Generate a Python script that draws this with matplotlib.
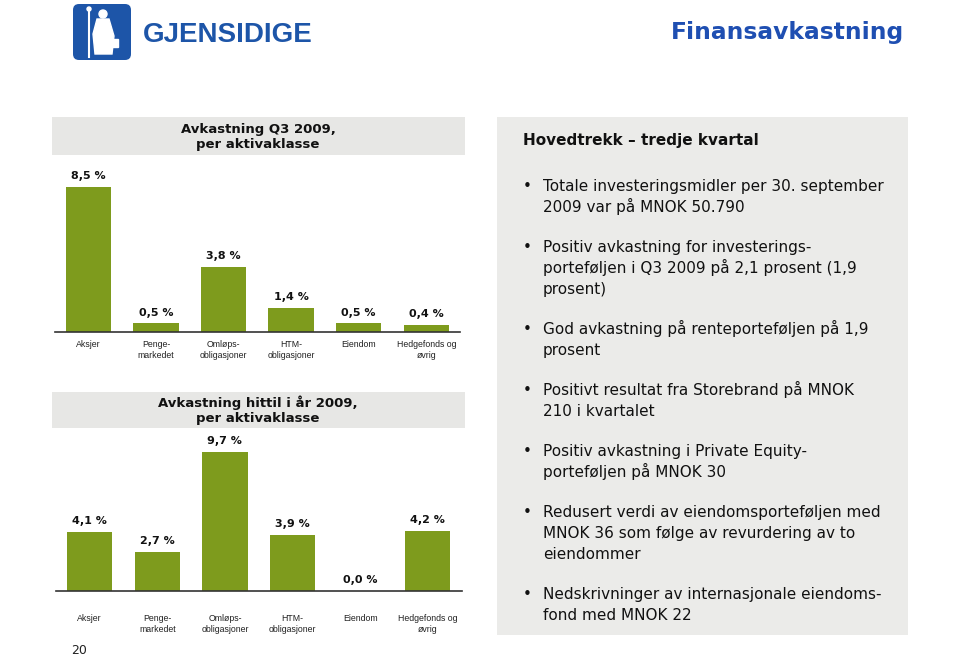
import matplotlib.pyplot as plt
from matplotlib.patches import Rectangle, FancyBboxPatch, Ellipse, Polygon

# data
categories = ['Aksjer', 'Penge-\nmarkedet', 'Omløps-\nobligasjoner', 'HTM-\nobligasjoner',
              'Eiendom', 'Hedgefonds og\nøvrig']
q3_values = [8.5, 0.5, 3.8, 1.4, 0.5, 0.4]
ytd_values = [4.1, 2.7, 9.7, 3.9, 0.0, 4.2]

q3_title = 'Avkastning Q3 2009,\nper aktivaklasse'
ytd_title = 'Avkastning hittil i år 2009,\nper aktivaklasse'
panel_title = 'Hovedtrekk – tredje kvartal'
bullets = [
    ['Totale investeringsmidler per 30. september', '2009 var på MNOK 50.790'],
    ['Positiv avkastning for investerings-', 'porteføljen i Q3 2009 på 2,1 prosent (1,9', 'prosent)'],
    ['God avkastning på renteporteføljen på 1,9', 'prosent'],
    ['Positivt resultat fra Storebrand på MNOK', '210 i kvartalet'],
    ['Positiv avkastning i Private Equity-', 'porteføljen på MNOK 30'],
    ['Redusert verdi av eiendomsporteføljen med', 'MNOK 36 som følge av revurdering av to', 'eiendommer'],
    ['Nedskrivninger av internasjonale eiendoms-', 'fond med MNOK 22'],
]

GREEN = '#7e9b1d'
GREY_BOX = '#e7e7e5'
PANEL = '#ebebe9'
BLUE = '#1f4fb2'
LOGO_BLUE = '#1d55a8'

W, H = 960, 658


def main():
    fig = plt.figure(figsize=(9.6, 6.58), dpi=100)

    # overlay in pixel coordinates for the slide decoration
    deco = fig.add_axes([0, 0, 1, 1])
    deco.set_xlim(0, W)
    deco.set_ylim(H, 0)
    deco.axis('off')

    draw_logo(deco)
    deco.text(904, 33, 'Finansavkastning', ha='right', va='center', fontsize=16.8,
              fontweight='bold', color=BLUE)

    # chart title boxes
    deco.add_patch(Rectangle((52, 117), 413, 38, color=GREY_BOX, lw=0))
    deco.text(258, 137, q3_title, ha='center', va='center', fontsize=9.5,
              fontweight='bold', linespacing=1.25, color='#111111')
    deco.add_patch(Rectangle((52, 392), 413, 36, color=GREY_BOX, lw=0))
    deco.text(258, 410, ytd_title, ha='center', va='center', fontsize=9.5,
              fontweight='bold', linespacing=1.25, color='#111111')

    # right text panel
    deco.add_patch(Rectangle((497, 117), 411, 518, color=PANEL, lw=0))
    deco.text(523, 141, panel_title, ha='left', va='center', fontsize=11,
              fontweight='bold', color='#111111')
    y = 186
    for item in bullets:
        deco.text(527, y + 5, '•', ha='center', va='baseline', fontsize=11, color='#111111')
        for line in item:
            deco.text(543, y + 5, line, ha='left', va='baseline', fontsize=11, color='#111111')
            y += 21
        y += 19

    deco.text(71, 651, '20', ha='left', va='center', fontsize=9, color='#222222')

    # bar charts
    bar_chart(fig, q3_values, left=54.5, right=460.1, base_y=331.7, top_y=160,
              px_per_unit=17.06, pad=6)
    bar_chart(fig, ytd_values, left=55.9, right=461.5, base_y=590.7, top_y=440,
              px_per_unit=14.33, pad=16.5)

    fig.savefig('out.png', dpi=100)


def draw_logo(ax):
    ax.add_patch(FancyBboxPatch((75, 6), 54, 52, boxstyle='round,pad=2,rounding_size=6',
                                color=LOGO_BLUE, lw=0))
    # simple white pilgrim figure
    ax.plot([89, 89], [9, 57], color='white', lw=1.5)
    ax.add_patch(Ellipse((89, 9), 4, 4, color='white'))
    ax.add_patch(Ellipse((103, 14), 8, 8, color='white'))
    ax.add_patch(Polygon([(97, 19), (109, 19), (114, 36), (112, 54), (95, 54), (93, 34)],
                         closed=True, color='white'))
    ax.add_patch(Rectangle((110, 39), 8, 8, color='white'))
    ax.text(143, 35, 'GJENSIDIGE', ha='left', va='center', fontsize=20,
            fontweight='bold', family='Liberation Sans', color=LOGO_BLUE)


def bar_chart(fig, values, left, right, base_y, top_y, px_per_unit, pad):
    ax = fig.add_axes([left / W, 1 - base_y / H, (right - left) / W, (base_y - top_y) / H])
    ax.patch.set_alpha(0)
    x = list(range(len(values)))
    ax.bar(x, values, width=0.67, color=GREEN)
    ax.set_xlim(-0.5, len(values) - 0.5)
    ax.set_ylim(0, (base_y - top_y) / px_per_unit)

    for i, v in enumerate(values):
        label = f'{v:.1f} %'.replace('.', ',')
        ax.annotate(label, (i, v), xytext=(0, 4), textcoords='offset points',
                    ha='center', va='bottom', fontsize=8, fontweight='bold', color='#111111')

    ax.set_xticks(x, categories, fontsize=6.3, family='Liberation Sans', linespacing=1.35,
                  color='#222222')
    ax.tick_params(axis='x', length=0, pad=pad)
    ax.set_yticks([])
    for side in ['left', 'right', 'top']:
        ax.spines[side].set_visible(False)
    ax.spines['bottom'].set_color('#333333')
    ax.spines['bottom'].set_linewidth(1.2)


if __name__ == '__main__':
    main()
